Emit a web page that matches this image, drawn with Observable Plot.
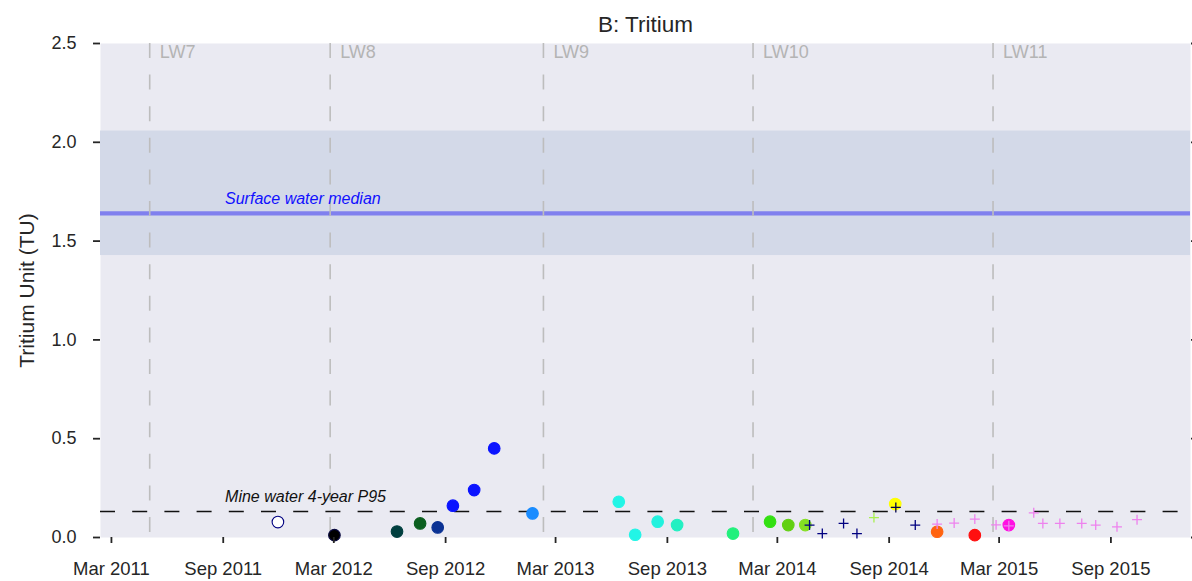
<!DOCTYPE html>
<html><head><meta charset="utf-8">
<script src="https://cdn.jsdelivr.net/npm/d3@7"></script>
<script src="https://cdn.jsdelivr.net/npm/@observablehq/plot@0.6"></script>
<style>
body{margin:0;background:#fff;}
#chart svg{display:block;}
</style></head><body><div id="chart"></div>
<script>
// ---- data ----
const circleDates = ["2011-11-30","2012-03-02","2012-06-13","2012-07-21","2012-08-19","2012-09-13","2012-10-18","2012-11-20","2013-01-22","2013-06-13","2013-07-10","2013-08-16","2013-09-17","2013-12-18","2014-02-17","2014-03-19","2014-04-16","2014-09-11","2014-11-19","2015-01-20","2015-03-17"];
const circleValues = [0.078,0.012,0.030,0.071,0.051,0.161,0.240,0.451,0.122,0.181,0.014,0.080,0.063,0.020,0.080,0.063,0.063,0.169,0.029,0.012,0.063];
const circleColors = ["#ffffff","#000000","#013f3f","#0b5e1f","#0b3294","#0b14ff","#0b14ff","#0b14ff","#1a8cff","#22f5e6","#22f5e6","#22f2de","#22f0c2","#22f07c","#33e012","#62d012","#84df22","#ffff00","#ff6310","#ff1010","#ff10e2"];
const circleEdges  = ["#000080","#0a0a40","#013f3f","#0b5e1f","#0b3294","#0b14ff","#0b14ff","#0b14ff","#1a8cff","#22f5e6","#22f5e6","#22f2de","#22f0c2","#22f07c","#33e012","#62d012","#84df22","#ffff00","#ff6310","#ff1010","#ff10e2"];

const crossDates = ["2014-04-23","2014-05-14","2014-06-18","2014-07-10","2014-09-12","2014-10-14","2014-08-07","2014-11-19","2014-12-17","2015-01-20","2015-02-24","2015-03-17","2015-04-27","2015-05-12","2015-06-09","2015-07-15","2015-08-07","2015-09-11","2015-10-14"];
const crossValues = [0.063,0.020,0.071,0.020,0.152,0.063,0.101,0.068,0.073,0.093,0.064,0.059,0.125,0.071,0.071,0.071,0.063,0.054,0.090];
const crossColors = ["#000080","#000080","#000080","#000080","#000050","#000080","#a8f050","#ee82ee","#ee82ee","#ee82ee","#ee82ee","#ee82ee","#ee82ee","#ee82ee","#ee82ee","#ee82ee","#ee82ee","#ee82ee","#ee82ee"];

const longwallNames = ["LW7","LW8","LW9","LW10","LW11"];
const longwallDates = ["2011-05-03","2012-02-24","2013-02-09","2014-01-20","2015-02-19"];

const surfaceBand = [1.427, 2.057];
const surfaceMedian = [1.64];
const mineP95 = [0.132];
const annotationLabels = ["Surface water median","Mine water 4-year P95"];
const annotationDate = "2011-09-04";

const xTickDates = ["2011-03-01","2011-09-01","2012-03-01","2012-09-01","2013-03-01","2013-09-01","2014-03-01","2014-09-01","2015-03-01","2015-09-01"];
const yTicks = [0, 0.5, 1.0, 1.5, 2.0, 2.5];
const xDomain = ["2011-02-11","2016-01-10"];
const yDomain = [0, 2.5];
const titleText = "B: Tritium";
const yLabelText = "Tritium Unit (TU)";

// ---- build tables ----
const P = d3.utcParse("%Y-%m-%d");
const circles = circleDates.map((d,i)=>({date:P(d), value:circleValues[i], fill:circleColors[i], edge:circleEdges[i]}));
const crosses = crossDates.map((d,i)=>({date:P(d), value:crossValues[i], color:crossColors[i]}));
const longwalls = longwallNames.map((n,i)=>({name:n, date:P(longwallDates[i])}));
const band = [{lo:surfaceBand[0], hi:surfaceBand[1]}];

const FONT = "Liberation Sans, Arial, Helvetica, sans-serif";
const TXT = "#262626";

const chart = Plot.plot({
  width: 1192,
  height: 581,
  marginLeft: 100,
  marginRight: 2,
  marginTop: 43,
  marginBottom: 44,
  style: {fontFamily: FONT, fontSize: "18px", background: "white", color: TXT},
  x: {type: "utc", domain: xDomain.map(P)},
  y: {domain: yDomain},
  color: {type: "identity"},
  marks: [
    Plot.frame({fill: "#eaeaf2", stroke: null}),
    Plot.rect(band, {y1: "lo", y2: "hi", fill: "#d3d9e8"}),
    Plot.ruleY(surfaceMedian, {stroke: "#8080ee", strokeWidth: 4.2}),
    Plot.ruleX(longwalls, {x: "date", stroke: "#bdbdbd", strokeWidth: 1.6, strokeDasharray: "15,16.6"}),
    Plot.text(longwalls, {x: "date", text: "name", frameAnchor: "top", textAnchor: "start", lineAnchor: "top", dx: 10, dy: 2, fill: "#b4b4b4", fontSize: 18}),
    Plot.ruleY(mineP95, {stroke: "#111", strokeWidth: 1.5, strokeDasharray: "15,17.2"}),
    Plot.text([annotationLabels[0]], {x: () => P(annotationDate), y: () => surfaceMedian[0], text: d => d, textAnchor: "start", lineAnchor: "middle", dy: -15, fill: "#1010ff", fontSize: 16, fontStyle: "italic"}),
    Plot.text([annotationLabels[1]], {x: () => P(annotationDate), y: () => mineP95[0], text: d => d, textAnchor: "start", lineAnchor: "middle", dy: -15, fill: "#111", fontSize: 16, fontStyle: "italic"}),
    Plot.dot(circles, {x: "date", y: "value", r: 5.8, fill: "fill", stroke: "edge", strokeWidth: 1.1}),
    Plot.dot(crosses, {x: "date", y: "value", symbol: "plus", r: 3.3, stroke: "color", strokeWidth: 1.3}),
    Plot.axisX({ticks: xTickDates.map(P), tickFormat: d3.utcFormat("%b %Y"), tickSize: 6, tickPadding: 18, strokeWidth: 1.8, fontSize: 18.5, label: null, color: TXT}),
    Plot.axisY({ticks: yTicks, tickFormat: d3.format(".1f"), tickSize: 7, tickPadding: 17, strokeWidth: 1.8, fontSize: 18, label: null, color: TXT}),
    Plot.axisY({anchor: "right", ticks: yTicks, tickFormat: () => "", tickSize: 6, strokeWidth: 1.8, label: null, color: TXT}),
    Plot.text([titleText], {frameAnchor: "top", lineAnchor: "middle", dy: -19, fontSize: 22.5, fill: TXT}),
    Plot.text([yLabelText], {frameAnchor: "left", rotate: -90, textAnchor: "middle", lineAnchor: "middle", dx: -73.4, fontSize: 21, fill: TXT})
  ]
});
document.getElementById("chart").appendChild(chart);
</script></body></html>
